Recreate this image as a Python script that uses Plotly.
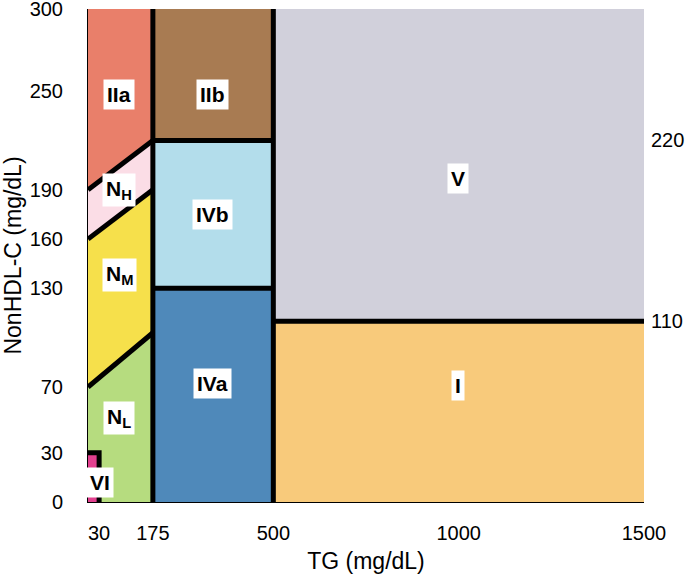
import plotly.graph_objects as go

# ---- data (thresholds in mg/dL) ----
TG_MAX = 1500
NHDL_MAX = 300
TG_VI = 30          # type VI upper TG
TG_N = 175          # normal TG cut
TG_IV = 500         # type IV / V cut
NHDL_VI = 30        # type VI upper NonHDL-C
NHDL_IIB = 220      # IIb / IVb boundary
NHDL_IVA = 130      # IVb / IVa boundary
NHDL_I = 110        # V / I boundary
# sloped boundaries in the normal zone: value at TG=0 and at TG=175
LINE_IIA_NH = [190, 220]
LINE_NH_NM = [160, 190]
LINE_NM_NL = [70, 103]

x_ticks = [30, 175, 500, 1000, 1500]
y_ticks_left = [0, 30, 70, 130, 160, 190, 250, 300]
y_ticks_right = [110, 220]

region_names = ["IIa", "N<sub>H</sub>", "N<sub>M</sub>", "N<sub>L</sub>", "IIb", "IVb", "IVa", "V", "I", "VI"]
region_colors = ["#E97F6A", "#FBDDE6", "#F6E04B", "#B6DC7F", "#A87B52", "#B3DDEB", "#4F89BA", "#D1D0DB", "#F8CA7B", "#E2408F"]
label_tg = [84, 84, 84, 84, 337, 337, 337, 998, 998, 32]
label_nhdl = [248, 190, 138, 51, 248, 175, 72, 197, 71, 12]

# polygons built from the thresholds
polys = [
    ([0, TG_N, TG_N, 0], [LINE_IIA_NH[0], LINE_IIA_NH[1], NHDL_MAX, NHDL_MAX]),
    ([0, TG_N, TG_N, 0], [LINE_NH_NM[0], LINE_NH_NM[1], LINE_IIA_NH[1], LINE_IIA_NH[0]]),
    ([0, TG_N, TG_N, 0], [LINE_NM_NL[0], LINE_NM_NL[1], LINE_NH_NM[1], LINE_NH_NM[0]]),
    ([0, TG_N, TG_N, 0], [0, 0, LINE_NM_NL[1], LINE_NM_NL[0]]),
    ([TG_N, TG_IV, TG_IV, TG_N], [NHDL_IIB, NHDL_IIB, NHDL_MAX, NHDL_MAX]),
    ([TG_N, TG_IV, TG_IV, TG_N], [NHDL_IVA, NHDL_IVA, NHDL_IIB, NHDL_IIB]),
    ([TG_N, TG_IV, TG_IV, TG_N], [0, 0, NHDL_IVA, NHDL_IVA]),
    ([TG_IV, TG_MAX, TG_MAX, TG_IV], [NHDL_I, NHDL_I, NHDL_MAX, NHDL_MAX]),
    ([TG_IV, TG_MAX, TG_MAX, TG_IV], [0, 0, NHDL_I, NHDL_I]),
    ([0, TG_VI, TG_VI, 0], [0, 0, NHDL_VI, NHDL_VI]),
]

boundaries = [
    ([TG_N, TG_N], [0, NHDL_MAX]),
    ([TG_IV, TG_IV], [0, NHDL_MAX]),
    ([TG_N, TG_IV], [NHDL_IIB, NHDL_IIB]),
    ([TG_N, TG_IV], [NHDL_IVA, NHDL_IVA]),
    ([TG_IV, TG_MAX], [NHDL_I, NHDL_I]),
    ([0, TG_N], LINE_IIA_NH),
    ([0, TG_N], LINE_NH_NM),
    ([0, TG_N], LINE_NM_NL),
    ([0, TG_VI, TG_VI], [NHDL_VI, NHDL_VI, 0]),
]

FONT = "Arial, 'Liberation Sans', sans-serif"

fig = go.Figure()
for (px, py), col in zip(polys, region_colors):
    fig.add_trace(go.Scatter(x=px + [px[0]], y=py + [py[0]], mode="lines", fill="toself",
                             fillcolor=col, line=dict(width=0, color=col),
                             hoverinfo="skip", showlegend=False))
for bx, by in boundaries:
    fig.add_trace(go.Scatter(x=bx, y=by, mode="lines", line=dict(color="black", width=5),
                             hoverinfo="skip", showlegend=False))
# invisible trace for right axis
fig.add_trace(go.Scatter(x=[0], y=[0], yaxis="y2", mode="markers", marker=dict(opacity=0),
                         hoverinfo="skip", showlegend=False))

for name, lx, ly in zip(region_names, label_tg, label_nhdl):
    fig.add_annotation(x=lx, y=ly, text="<b>" + name + "</b>", showarrow=False,
                       bgcolor="white", borderpad=3,
                       font=dict(family=FONT, size=21, color="black"))

fig.update_layout(
    width=685, height=574,
    margin=dict(l=88, r=41, t=9, b=72, autoexpand=False),
    plot_bgcolor="white", paper_bgcolor="white",
    font=dict(family=FONT, size=20, color="black"),
    xaxis=dict(range=[0, TG_MAX], tickvals=x_ticks, ticktext=[str(v) for v in x_ticks],
               showgrid=False, zeroline=False, showline=True, linecolor="black", linewidth=1,
               ticks="", ticklabelstandoff=13, ticklabeloverflow="allow",
               title=dict(text="TG (mg/dL)", font=dict(size=23), standoff=11)),
    yaxis=dict(range=[0, NHDL_MAX], tickvals=y_ticks_left, ticktext=[str(v) for v in y_ticks_left],
               showgrid=False, zeroline=False, showline=True, linecolor="black", linewidth=1,
               ticks="", ticklabelstandoff=20, ticklabeloverflow="allow",
               title=dict(text="NonHDL-C (mg/dL)", font=dict(size=23), standoff=16)),
    yaxis2=dict(range=[0, NHDL_MAX], overlaying="y", side="right", tickvals=y_ticks_right,
                ticktext=[str(v) for v in y_ticks_right], showgrid=False, zeroline=False,
                showline=False, ticks="", ticklabelstandoff=6, ticklabeloverflow="allow"),
)

# remove the default 8px page margin so the figure fills the window exactly
fig.write_html("out.html", config={"displayModeBar": False},
               post_script="document.body.style.margin='0';")
